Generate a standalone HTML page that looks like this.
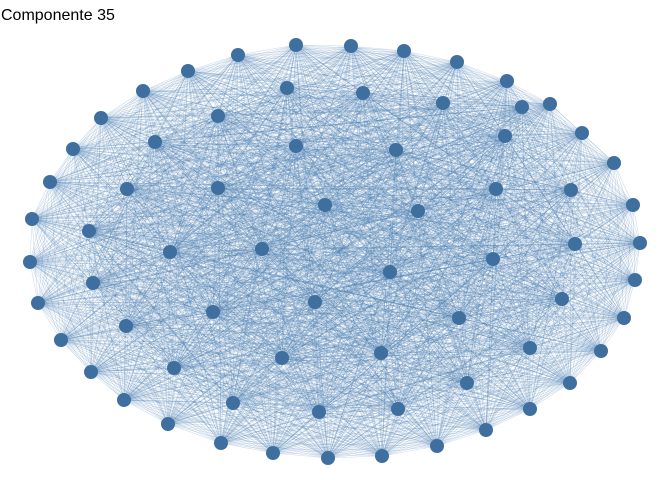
<!DOCTYPE html>
<html><head><meta charset="utf-8"><style>
body{margin:0;background:#fff;width:672px;height:480px;overflow:hidden}
#t{position:absolute;left:1px;top:7px;font:16px "Liberation Sans",sans-serif;color:#000}
</style></head><body>
<div id="t">Componente 35</div>
<svg id="g" width="672" height="480" style="position:absolute;left:0;top:0"></svg>
<script>
const nodeX=[296,351,404,457,507,550,582,614,633,640,635,624,601,570,530,486,437,382,328,273,221,168,124,91,61,38,30,32,50,73,101,143,188,238,
287,363,443,522,218,155,296,396,505,127,218,325,418,496,571,89,170,262,575,93,493,390,562,213,315,459,126,530,381,282,174,467,233,319,398];
const nodeY=[45,46,51,62,81,104,133,163,205,243,280,318,351,383,409,430,446,456,458,453,443,424,400,372,340,303,262,219,182,149,118,91,71,55,
88,93,103,107,116,142,146,150,136,189,188,205,211,189,190,231,252,249,244,283,259,272,299,312,302,318,326,348,353,358,368,383,403,412,409];
const NS="http://www.w3.org/2000/svg";
const svg=document.getElementById('g');
const eg=document.createElementNS(NS,'g');
svg.appendChild(eg);
for(let i=0;i<nodeX.length;i++){for(let j=i+1;j<nodeX.length;j++){
 const l=document.createElementNS(NS,'line');
 
 
 l.setAttribute('x1',nodeX[i]);l.setAttribute('y1',nodeY[i]);
 l.setAttribute('x2',nodeX[j]);l.setAttribute('y2',nodeY[j]);
 l.setAttribute('stroke','#4a7db0');l.setAttribute('stroke-opacity','0.27');l.setAttribute('stroke-width','0.6');
 eg.appendChild(l);}}
for(let i=0;i<nodeX.length;i++){
 const c=document.createElementNS(NS,'circle');
 
 
 c.setAttribute('cx',nodeX[i]);c.setAttribute('cy',nodeY[i]);c.setAttribute('r','7');
 c.setAttribute('fill','#3f6f9e');
 svg.appendChild(c);}
</script>
</body></html>
